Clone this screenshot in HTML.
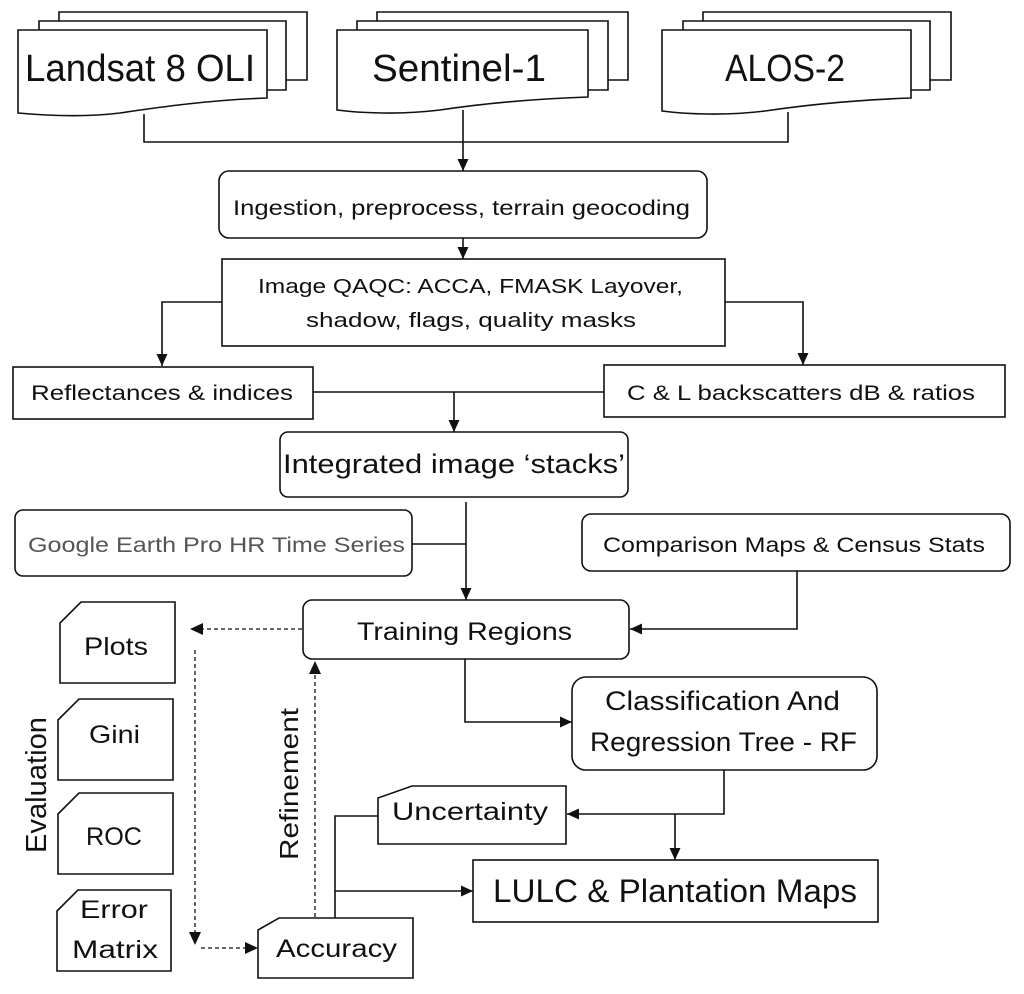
<!DOCTYPE html>
<html><head><meta charset="utf-8"><style>
html,body{margin:0;padding:0;background:#fff;}
svg{display:block;}
text{font-family:"Liberation Sans",sans-serif;fill:#111;}
</style></head><body>
<svg width="1024" height="994" viewBox="0 0 1024 994" xmlns="http://www.w3.org/2000/svg">
<defs>
<marker id="a" markerWidth="12" markerHeight="12" refX="12" refY="6" orient="auto" markerUnits="userSpaceOnUse"><path d="M0,0.5 L12,6 L0,11.5 z" fill="#111"/></marker>
</defs>
<g fill="#fff" stroke="#111" stroke-width="1.6">
<path d="M59,80 V12 H307 V80 Z"/>
<path d="M39,90 V21 H286 V90 Z"/>
<path d="M18,113 V30 H267 V98 C210,100 160,107 120,113 C80,118 40,115 18,113 Z"/>
<path d="M377,80 V12 H628 V80 Z"/>
<path d="M357,90 V21 H608 V90 Z"/>
<path d="M337,110 V30 H588 V97 C530,99 480,104 440,110 C400,115 360,113 337,110 Z"/>
<path d="M703,80 V12 H951 V80 Z"/>
<path d="M683,90 V21 H930 V90 Z"/>
<path d="M662,111 V30 H911 V98 C855,100 805,105 765,111 C725,116 685,114 662,111 Z"/>
</g>
<g fill="none" stroke="#111" stroke-width="1.6">
<path d="M144,114 V142 H788 V112"/>
<path d="M463,110 V171" marker-end="url(#a)"/>
<rect x="219" y="171" width="488" height="67" rx="10"/>
<path d="M463,238 V259" marker-end="url(#a)"/>
<rect x="222" y="259" width="503" height="87"/>
<path d="M222,302 H162 V366" marker-end="url(#a)"/>
<path d="M725,302 H803 V365" marker-end="url(#a)"/>
<rect x="13" y="367" width="300" height="52"/>
<rect x="604" y="365" width="401" height="52"/>
<path d="M313,392 H604"/>
<path d="M454,392 V432" marker-end="url(#a)"/>
<rect x="280" y="432" width="348" height="65" rx="8"/>
<rect x="15" y="510" width="397" height="66" rx="8"/>
<rect x="582" y="514" width="428" height="57" rx="9"/>
<path d="M466,502 V600" marker-end="url(#a)"/>
<path d="M412,544 H466"/>
<path d="M797,571 V629 H630" marker-end="url(#a)"/>
<rect x="303" y="600" width="326" height="59" rx="9"/>
<path d="M465,659 V722 H572" marker-end="url(#a)"/>
<rect x="572" y="677" width="305" height="93" rx="14"/>
<path d="M724,770 V814 H567" marker-end="url(#a)"/>
<path d="M675,814 V860" marker-end="url(#a)"/>
<rect x="473" y="860" width="405" height="62"/>
<path d="M335,918 V816 H378"/>
<path d="M335,891 H473" marker-end="url(#a)"/>
</g>
<g fill="#fff" stroke="#111" stroke-width="1.6">
<path d="M60,623 L81,602 H175 V683 H60 Z"/>
<path d="M58,720 L79,699 H173 V780 H58 Z"/>
<path d="M58,814 L79,793 H173 V874 H58 Z"/>
<path d="M57,911 L78,890 H171 V971 H57 Z"/>
<path d="M258,930 L279,918 H413 V978 H258 Z"/>
<path d="M378,798 L412,786 H566 V844 H378 Z"/>
</g>
<g fill="none" stroke="#111" stroke-width="1.3" stroke-dasharray="4,3">
<path d="M302,629 H201"/>
<path d="M195,650 V932"/>
<path d="M201,948 H247"/>
<path d="M315,917 V673"/>
</g>
<g fill="#111">
<path d="M190,629 L203,623 L203,635 Z"/>
<path d="M195,945 L189,932 L201,932 Z"/>
<path d="M258,948 L245,942 L245,954 Z"/>
<path d="M315,661 L309,674 L321,674 Z"/>
</g>
<text x="25" y="81" font-size="38" textLength="230" lengthAdjust="spacingAndGlyphs">Landsat 8 OLI</text>
<text x="372" y="81" font-size="38" textLength="174" lengthAdjust="spacingAndGlyphs">Sentinel-1</text>
<text x="725" y="81" font-size="38" textLength="120" lengthAdjust="spacingAndGlyphs">ALOS-2</text>
<text x="233" y="215" font-size="21" textLength="457" lengthAdjust="spacingAndGlyphs">Ingestion, preprocess, terrain geocoding</text>
<text x="258" y="293" font-size="20" textLength="425" lengthAdjust="spacingAndGlyphs">Image QAQC: ACCA, FMASK  Layover,</text>
<text x="306" y="327" font-size="20" textLength="330" lengthAdjust="spacingAndGlyphs">shadow, flags, quality masks</text>
<text x="31" y="400" font-size="21" textLength="262" lengthAdjust="spacingAndGlyphs">Reflectances &amp; indices</text>
<text x="627" y="400" font-size="21" textLength="348" lengthAdjust="spacingAndGlyphs">C &amp; L backscatters dB &amp; ratios</text>
<text x="283" y="473" font-size="27" textLength="342" lengthAdjust="spacingAndGlyphs">Integrated image ‘stacks’</text>
<text x="28" y="552" font-size="21" textLength="377" lengthAdjust="spacingAndGlyphs" style="fill:#555">Google Earth Pro HR Time Series</text>
<text x="603" y="552" font-size="21" textLength="382" lengthAdjust="spacingAndGlyphs">Comparison Maps &amp; Census Stats</text>
<text x="357" y="640" font-size="25" textLength="215" lengthAdjust="spacingAndGlyphs">Training Regions</text>
<text x="605" y="710" font-size="27" textLength="235" lengthAdjust="spacingAndGlyphs">Classification And</text>
<text x="590" y="751" font-size="27" textLength="267" lengthAdjust="spacingAndGlyphs">Regression Tree - RF</text>
<text x="392" y="820" font-size="25" textLength="156" lengthAdjust="spacingAndGlyphs">Uncertainty</text>
<text x="493" y="902" font-size="32" textLength="364" lengthAdjust="spacingAndGlyphs">LULC &amp; Plantation Maps</text>
<text x="84" y="655" font-size="25" textLength="64" lengthAdjust="spacingAndGlyphs">Plots</text>
<text x="89" y="743" font-size="25" textLength="51" lengthAdjust="spacingAndGlyphs">Gini</text>
<text x="86" y="845" font-size="25" textLength="56" lengthAdjust="spacingAndGlyphs">ROC</text>
<text x="80" y="918" font-size="25" textLength="68" lengthAdjust="spacingAndGlyphs">Error</text>
<text x="72" y="958" font-size="25" textLength="86" lengthAdjust="spacingAndGlyphs">Matrix</text>
<text x="276" y="957" font-size="25" textLength="121" lengthAdjust="spacingAndGlyphs">Accuracy</text>
<text transform="translate(46,853) rotate(-90)" font-size="29" textLength="136" lengthAdjust="spacingAndGlyphs">Evaluation</text>
<text transform="translate(298,860) rotate(-90)" font-size="26" textLength="152" lengthAdjust="spacingAndGlyphs">Refinement</text>
</svg>
</body></html>
